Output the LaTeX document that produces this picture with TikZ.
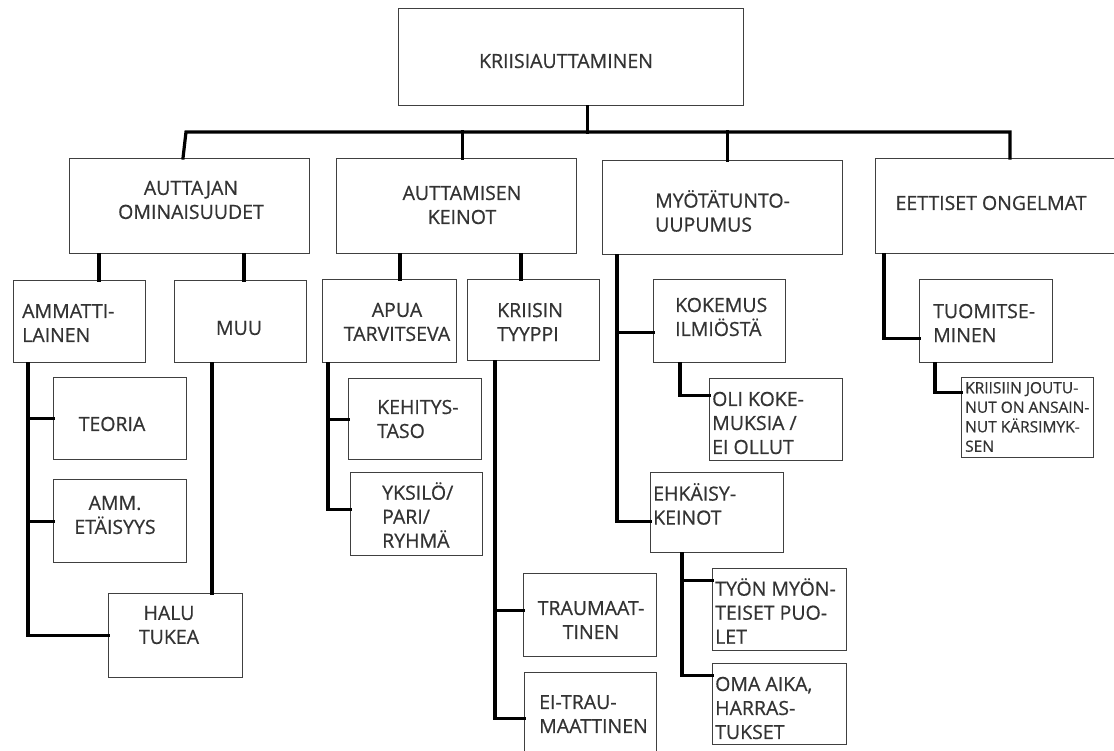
\documentclass[tikz,border=0pt]{standalone}
\usepackage{fontspec}
\setmainfont{Open Sans}[FakeBold=0.6]
\begin{document}
\begin{tikzpicture}[x=1pt,y=-1pt,
  box/.style={draw=black!75, line width=1.3pt, fill=white, inner sep=0pt, anchor=north west},
  conn/.style={draw=black, line width=3.2pt, line cap=rect},
  lbl/.style={inner sep=0pt, text=black!80, font=\fontsize{19.5}{24}\selectfont, align=left},
  lblc/.style={lbl, align=center},
  small/.style={inner sep=0pt, text=black!80, font=\fontsize{15.5}{19.5}\selectfont, align=left}]
\useasboundingbox (0,0) rectangle (1114,751);
% ---------- boxes ----------
\node[box, minimum width=345, minimum height=97] (root) at (398,8) {};
\node[box, minimum width=240, minimum height=95] (a1) at (69,158) {};
\node[box, minimum width=240, minimum height=95] (a2) at (336,158) {};
\node[box, minimum width=240, minimum height=94] (a3) at (602,160) {};
\node[box, minimum width=240, minimum height=95] (a4) at (875,158) {};
% column 1
\node[box, minimum width=132, minimum height=82] (b1) at (13,280) {};
\node[box, minimum width=132, minimum height=82] (b2) at (174,280) {};
\node[box, minimum width=133, minimum height=82] (b3) at (53,377) {};
\node[box, minimum width=133, minimum height=83] (b4) at (53,479) {};
\node[box, minimum width=134, minimum height=84] (b5) at (108,593) {};
% column 2
\node[box, minimum width=134, minimum height=83] (c1) at (322,279) {};
\node[box, minimum width=132, minimum height=81] (c2) at (467,279) {};
\node[box, minimum width=133, minimum height=81] (c3) at (348,378) {};
\node[box, minimum width=132, minimum height=83] (c4) at (350,472) {};
\node[box, minimum width=133, minimum height=83] (c5) at (523,573) {};
\node[box, minimum width=132, minimum height=85] (c6) at (524,672) {};
% column 3
\node[box, minimum width=132, minimum height=83] (d1) at (653,279) {};
\node[box, minimum width=133, minimum height=82] (d2) at (709,378) {};
\node[box, minimum width=133, minimum height=80] (d3) at (650,472) {};
\node[box, minimum width=134, minimum height=82] (d4) at (712,568) {};
\node[box, minimum width=134, minimum height=81] (d5) at (712,663) {};
% column 4
\node[box, minimum width=133, minimum height=83] (e1) at (919,279) {};
\node[box, minimum width=132, minimum height=80] (e2) at (961,377) {};
% ---------- labels ----------
\node[lbl] (troot) at (566,61) {KRIISIAUTTAMINEN};
\node[lblc] (ta1) at (191,200) {AUTTAJAN\\OMINAISUUDET};
\node[lblc] (ta2) at (462,205) {AUTTAMISEN\\KEINOT};
\node[lbl, anchor=west] (ta3) at (655,211) {MYÖTÄTUNTO-\\UUPUMUS};
\node[lbl] (ta4) at (991,203) {EETTISET ONGELMAT};
\node[lbl, anchor=west] (tb1) at (22,323) {AMMATTI-\\LAINEN};
\node[lbl] (tb2) at (239,328) {MUU};
\node[lbl] (tb3) at (112,424) {TEORIA};
\node[lblc] (tb4) at (115,515) {AMM.\\ETÄISYYS};
\node[lblc] (tb5) at (169,625) {HALU\\TUKEA};
\node[lblc] (tc1) at (397,322) {APUA\\TARVITSEVA};
\node[lbl, anchor=west] (tc2) at (497,322) {KRIISIN\\TYYPPI};
\node[lbl, anchor=west] (tc3) at (377,419) {KEHITYS-\\TASO};
\node[lbl, anchor=west] (tc4) at (382,515) {YKSILÖ/\\PARI/\\RYHMÄ};
\node[lblc] (tc5) at (591,620) {TRAUMAAT-\\TINEN};
\node[lbl, anchor=west] (tc6) at (539,714) {EI-TRAU-\\MAATTINEN};
\node[lbl, anchor=west] (td1) at (675,317) {KOKEMUS\\ILMIÖSTÄ};
\node[lbl, anchor=west] (td2) at (712,423) {OLI KOKE-\\MUKSIA /\\EI OLLUT};
\node[lbl, anchor=west] (td3) at (653,504) {EHKÄISY-\\KEINOT};
\node[lbl, anchor=west] (td4) at (715,611) {TYÖN MYÖN-\\TEISET PUO-\\LET};
\node[lbl, anchor=west] (td5) at (715,708) {OMA AIKA,\\HARRAS-\\TUKSET};
\node[lbl, anchor=west] (te1) at (933,323) {TUOMITSE-\\MINEN};
\node[small, anchor=west] (te2) at (965,417) {KRIISIIN JOUTU-\\NUT ON ANSAIN-\\NUT KÄRSIMYK-\\SEN};
% ---------- connectors ----------
\coordinate (busL) at (186,132);
\coordinate (busR) at (1010,132);
\draw[conn] ([xshift=16pt]root.south) -- ([xshift=16pt]root.south |- busL);
\draw[conn] ([xshift=-3pt]a1.north -| busL) -- (busL) -- (busR) -- (busR |- a4.north);
\draw[conn] ([xshift=6pt]a2.north |- busL) -- ([xshift=6pt]a2.north);
\draw[conn] ([xshift=5pt]a3.north |- busL) -- ([xshift=5pt]a3.north);
% auttajan
\draw[conn] ([xshift=30pt]a1.south west) -- ([xshift=30pt]a1.south west |- b1.north);
\draw[conn] ([xshift=175pt]a1.south west) -- ([xshift=175pt]a1.south west |- b2.north);
\coordinate (l1) at ([xshift=15pt]b1.south west);
\draw[conn] (l1) -- (l1 |- b5.west) -- (b5.west);
\draw[conn] (l1 |- b3.west) -- (b3.west);
\draw[conn] (l1 |- b4.west) -- (b4.west);
\draw[conn] ([xshift=38pt]b2.south west) -- ([xshift=38pt]b2.south west |- b5.north);
% auttamisen keinot
\draw[conn] ([xshift=64pt]a2.south west) -- ([xshift=64pt]a2.south west |- c1.north);
\draw[conn] ([xshift=185pt]a2.south west) -- ([xshift=185pt]a2.south west |- c2.north);
\coordinate (l2) at ([xshift=6pt]c1.south west);
\coordinate (pc3) at (c3.west);
\coordinate (pc4) at ([yshift=4.5pt]c4.west);
\draw[conn] (l2) -- (l2 |- pc4) -- (pc4);
\draw[conn] (l2 |- pc3) -- (pc3);
\coordinate (l3) at ([xshift=28pt]c2.south west);
\coordinate (pc5) at ([yshift=4.5pt]c5.west);
\coordinate (pc6) at ([yshift=-3.5pt]c6.west);
\draw[conn] (l3) -- (l3 |- pc6) -- (pc6);
\draw[conn] (l3 |- pc5) -- (pc5);
% myotatunto
\coordinate (l4) at ([xshift=15pt]a3.south west);
\coordinate (pd1) at ([yshift=-11.5pt]d1.west);
\coordinate (pd3) at ([yshift=-9pt]d3.west);
\draw[conn] (l4) -- (l4 |- pd3) -- (pd3);
\draw[conn] (l4 |- pd1) -- (pd1);
\coordinate (l5) at ([xshift=27pt]d1.south west);
\coordinate (pd2) at ([yshift=24pt]d2.west);
\draw[conn] (l5) -- (l5 |- pd2) -- (pd2);
\coordinate (l6) at ([xshift=32pt]d3.south west);
\coordinate (pd4) at ([yshift=29pt]d4.west);
\coordinate (pd5) at ([yshift=28.5pt]d5.west);
\draw[conn] (l6) -- (l6 |- pd5) -- (pd5);
\draw[conn] (l6 |- pd4) -- (pd4);
% eettiset
\coordinate (l7) at ([xshift=9pt]a4.south west);
\coordinate (pe1) at ([yshift=-17.5pt]e1.west);
\draw[conn] (l7) -- (l7 |- pe1) -- (pe1);
\coordinate (l8) at ([xshift=16pt]e1.south west);
\coordinate (pe2) at ([yshift=25pt]e2.west);
\draw[conn] (l8) -- (l8 |- pe2) -- (pe2);
\end{tikzpicture}
\end{document}
